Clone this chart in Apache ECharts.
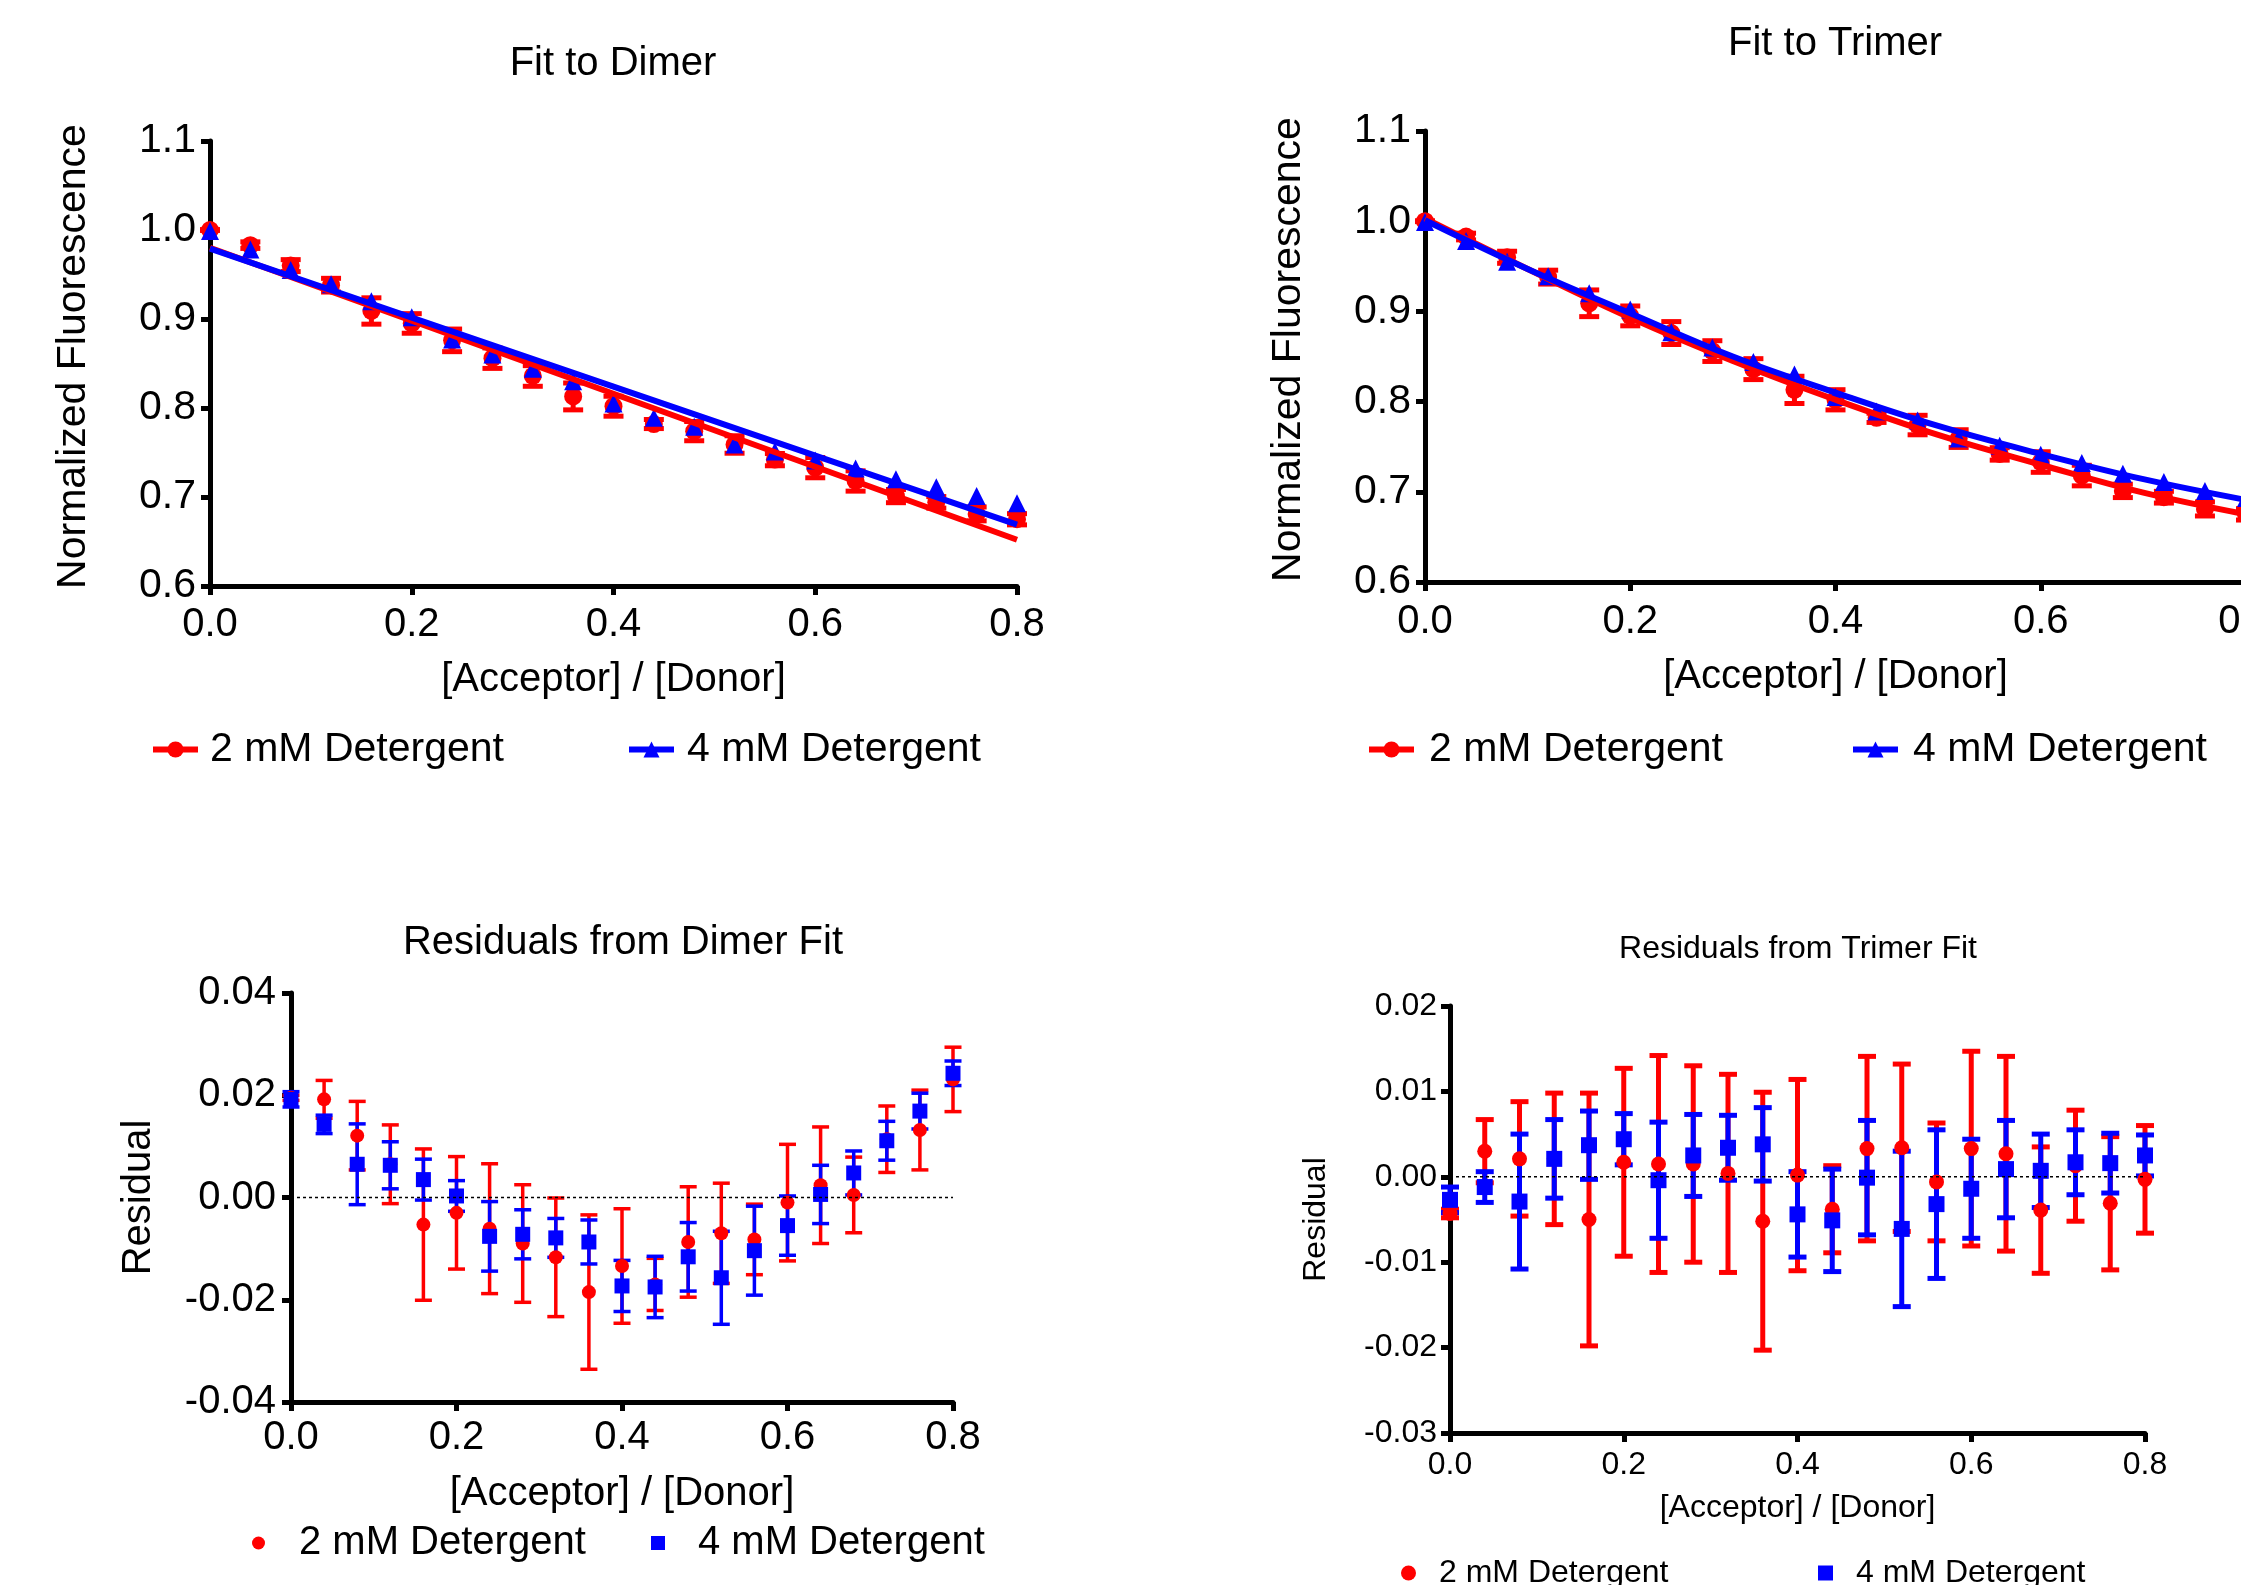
<!DOCTYPE html>
<html>
<head>
<meta charset="utf-8">
<title>FRET fits</title>
<script src="https://cdn.jsdelivr.net/npm/echarts@6/dist/echarts.min.js"></script>
<style>
html, body { margin: 0; padding: 0; background: #fff; }
#main { width: 2241px; height: 1585px; }
</style>
</head>
<body>
<div id="main"></div>
<script>
// acceptor / donor ratios
var xVals = [0, 0.04, 0.08, 0.12, 0.16, 0.2, 0.24, 0.28, 0.32, 0.36, 0.4, 0.44, 0.48, 0.52, 0.56, 0.6, 0.64, 0.68, 0.72, 0.76, 0.8];

// normalized fluorescence, 2 mM and 4 mM detergent
var fluor2 = [1.000, 0.983, 0.960, 0.938, 0.909, 0.895, 0.876, 0.856, 0.836, 0.813, 0.802, 0.782, 0.774, 0.759, 0.742, 0.733, 0.718, 0.701, 0.694, 0.681, 0.675];
var fluor4 = [0.999, 0.978, 0.955, 0.939, 0.920, 0.902, 0.877, 0.860, 0.844, 0.830, 0.805, 0.789, 0.779, 0.759, 0.751, 0.741, 0.732, 0.720, 0.711, 0.701, 0.693];

// error (same for fluorescence and residuals)
var err2 = [0.0005, 0.0037, 0.0067, 0.0077, 0.0148, 0.0110, 0.0127, 0.0115, 0.0116, 0.0151, 0.0112, 0.0051, 0.0108, 0.0098, 0.0069, 0.0114, 0.0114, 0.0074, 0.0065, 0.0078, 0.0063];
var err4 = [0.0015, 0.0018, 0.0079, 0.0046, 0.0040, 0.0030, 0.0068, 0.0048, 0.0038, 0.0043, 0.0050, 0.0060, 0.0067, 0.0091, 0.0087, 0.0058, 0.0057, 0.0043, 0.0038, 0.0035, 0.0024];

// fitted curves
var dimerX = [0, 0.4, 0.8];
var dimerFit2 = [0.980, 0.816, 0.652];
var dimerFit4 = [0.979, 0.824, 0.669];
var trimerX = [0, 0.1, 0.2, 0.3, 0.4, 0.5, 0.6, 0.7, 0.8];
var trimerFit2 = [1.003, 0.947, 0.893, 0.845, 0.802, 0.763, 0.730, 0.699, 0.675];
var trimerFit4 = [1.001, 0.947, 0.898, 0.850, 0.810, 0.773, 0.742, 0.714, 0.691];

// residuals
var resDimer2 = [0.0195, 0.0192, 0.0121, 0.0065, -0.0053, -0.0030, -0.0061, -0.0090, -0.0117, -0.0185, -0.0134, -0.0170, -0.0087, -0.0070, -0.0082, -0.0010, 0.0024, 0.0005, 0.0114, 0.0132, 0.0231];
var resDimer4 = [0.0192, 0.0143, 0.0065, 0.0063, 0.0035, 0.0003, -0.0076, -0.0072, -0.0079, -0.0087, -0.0173, -0.0175, -0.0116, -0.0157, -0.0104, -0.0055, 0.0006, 0.0048, 0.0111, 0.0169, 0.0243];
var resTrimer2 = [-0.0043, 0.0030, 0.0021, 0.0021, -0.0050, 0.0017, 0.0015, 0.0015, 0.0004, -0.0052, 0.0002, -0.0038, 0.0033, 0.0034, -0.0006, 0.0033, 0.0027, -0.0039, 0.0013, -0.0031, -0.0003];
var resTrimer4 = [-0.0027, -0.0012, -0.0029, 0.0021, 0.0037, 0.0044, -0.0004, 0.0025, 0.0034, 0.0038, -0.0044, -0.0051, -0.0001, -0.0061, -0.0032, -0.0014, 0.0009, 0.0007, 0.0017, 0.0016, 0.0025];

var zeroX = [0, 0.8];
var zeroY = [0, 0];

var legendNames = {
    d2: '2 mM Detergent', d4: '4 mM Detergent',
    t2: '2 mM Detergent', t4: '4 mM Detergent',
    rd2: '2 mM Detergent', rd4: '4 mM Detergent',
    rt2: '2 mM Detergent', rt4: '4 mM Detergent'
};

var FONT = '"Liberation Sans", Arial, sans-serif';
var RED = '#ff0000';
var BLUE = '#0000ff';

function pairs(xs, ys) {
    var out = [];
    for (var i = 0; i < xs.length; i++) out.push([xs[i], ys[i]]);
    return out;
}
function triples(xs, ys, es) {
    var out = [];
    for (var i = 0; i < xs.length; i++) out.push([xs[i], ys[i], es[i]]);
    return out;
}

function xAx(grid, fs, margin, gap) {
    return {
        type: 'value', gridIndex: grid, min: 0, max: 0.8, interval: 0.2,
        name: '[Acceptor] / [Donor]', nameLocation: 'middle', nameGap: gap,
        nameTextStyle: {fontSize: fs, color: '#000', fontFamily: FONT},
        axisLine: {show: true, onZero: false, lineStyle: {color: '#000', width: 5}},
        axisTick: {show: true, length: 9, lineStyle: {color: '#000', width: 5}},
        axisLabel: {fontSize: fs, color: '#000', fontFamily: FONT, margin: margin,
            formatter: function (v) { return v.toFixed(1); }},
        splitLine: {show: false}
    };
}
function yAx(grid, min, max, step, dig, name, fs, margin, gap, namePad) {
    return {
        type: 'value', gridIndex: grid, min: min, max: max, interval: step,
        name: name, nameLocation: 'middle', nameGap: gap,
        nameTextStyle: {fontSize: fs, color: '#000', fontFamily: FONT, padding: namePad || 0},
        axisLine: {show: true, onZero: false, lineStyle: {color: '#000', width: 5}},
        axisTick: {show: true, length: 9, lineStyle: {color: '#000', width: 5}},
        axisLabel: {fontSize: fs, color: '#000', fontFamily: FONT, margin: margin,
            formatter: function (v) { return v.toFixed(dig); }},
        splitLine: {show: false}
    };
}

function errBars(name, grid, data, color, lw, cap) {
    return {
        type: 'custom', name: name, xAxisIndex: grid, yAxisIndex: grid,
        data: data, encode: {x: 0, y: 1}, silent: true,
        renderItem: function (params, api) {
            var x = api.value(0), y = api.value(1), e = api.value(2);
            var t = api.coord([x, y + e]);
            var b = api.coord([x, y - e]);
            var st = {stroke: color, lineWidth: lw, fill: null};
            return {type: 'group', children: [
                {type: 'line', shape: {x1: t[0], y1: t[1], x2: b[0], y2: b[1]}, style: st},
                {type: 'line', shape: {x1: t[0] - cap / 2, y1: t[1], x2: t[0] + cap / 2, y2: t[1]}, style: st},
                {type: 'line', shape: {x1: b[0] - cap / 2, y1: b[1], x2: b[0] + cap / 2, y2: b[1]}, style: st}
            ]};
        }
    };
}
function points(name, grid, data, color, sym, size) {
    return {
        type: 'scatter', name: name, xAxisIndex: grid, yAxisIndex: grid,
        data: data, symbol: sym, symbolSize: size, silent: true,
        itemStyle: {color: color, opacity: 1}
    };
}
function fitLine(name, grid, data, color, sym, smooth) {
    return {
        type: 'line', name: name, xAxisIndex: grid, yAxisIndex: grid,
        data: data, symbol: sym, showSymbol: false, smooth: smooth, silent: true,
        itemStyle: {color: color}, lineStyle: {color: color, width: 6}
    };
}
function zeroLine(grid) {
    return {
        type: 'line', name: 'zero' + grid, xAxisIndex: grid, yAxisIndex: grid,
        data: pairs(zeroX, zeroY), symbol: 'none', silent: true,
        lineStyle: {color: '#000', width: 1.5, type: [3, 3]}
    };
}
// one legend per entry so every item sits where it does in the figure
function leg(name, left, top, w, h, fs, icon, pad) {
    var item = {name: name};
    if (icon) item.icon = icon;
    return {
        left: left, top: top, padding: 0, itemWidth: w, itemHeight: h,
        selectedMode: false, data: [item],
        lineStyle: {width: 6},
        formatter: function (n) { return legendNames[n]; },
        textStyle: {fontSize: fs, color: '#000', fontFamily: FONT, padding: [0, 0, 0, pad]}
    };
}
function titleText(text, x, y, fs) {
    return {type: 'text', x: x, y: y, silent: true,
        style: {text: text, fontSize: fs, fontFamily: FONT, fill: '#000', align: 'center', verticalAlign: 'middle'}};
}

var chart = echarts.init(document.getElementById('main'), null, {renderer: 'canvas'});

var option = {
    backgroundColor: '#fff',
    animation: false,
    grid: [
        {left: 210, top: 141, width: 807, height: 445, outerBoundsMode: 'none'},
        {left: 1425, top: 131, width: 821, height: 451, outerBoundsMode: 'none'},
        {left: 291, top: 993, width: 662, height: 409, outerBoundsMode: 'none'},
        {left: 1450, top: 1006, width: 695, height: 427, outerBoundsMode: 'none'}
    ],
    xAxis: [
        xAx(0, 40, 19, 74),
        xAx(1, 40, 20, 75),
        xAx(2, 40, 16, 72),
        xAx(3, 32, 16, 59)
    ],
    yAxis: [
        yAx(0, 0.6, 1.1, 0.1, 1, 'Normalized Fluorescence', 41, 14, 116, [0, 0, 0, 14]),
        yAx(1, 0.6, 1.1, 0.1, 1, 'Normalized Fluorescence', 41, 14, 116, [0, 0, 0, 14]),
        yAx(2, -0.04, 0.04, 0.02, 2, 'Residual', 40, 15, 132),
        yAx(3, -0.03, 0.02, 0.01, 2, 'Residual', 32, 13, 118)
    ],
    legend: [
        leg('d2', 150, 729, 45, 20, 41, null, 7),
        leg('d4', 626, 729, 45, 20, 41, null, 8),
        leg('t2', 1366, 729, 45, 20, 41, null, 10),
        leg('t4', 1850, 729, 45, 20, 41, null, 10),
        leg('rd2', 252, 1523, 13, 13, 40, 'circle', 29),
        leg('rd4', 651, 1523, 14, 14, 40, 'rect', 28),
        leg('rt2', 1401, 1557, 15, 15, 32, 'circle', 18),
        leg('rt4', 1818, 1557, 15, 15, 32, 'rect', 18)
    ],
    graphic: [
        titleText('Fit to Dimer', 613, 64, 40),
        titleText('Fit to Trimer', 1835, 44, 40),
        titleText('Residuals from Dimer Fit', 623, 943, 40),
        titleText('Residuals from Trimer Fit', 1798, 949, 32)
    ],
    series: [
        // fit to dimer
        errBars('ed2', 0, triples(xVals, fluor2, err2), RED, 5, 20),
        points('pd2', 0, pairs(xVals, fluor2), RED, 'circle', 18),
        points('pd4', 0, pairs(xVals, fluor4), BLUE, 'triangle', 18),
        fitLine('d2', 0, pairs(dimerX, dimerFit2), RED, 'circle', false),
        fitLine('d4', 0, pairs(dimerX, dimerFit4), BLUE, 'triangle', false),
        // fit to trimer
        errBars('et2', 1, triples(xVals, fluor2, err2), RED, 5, 20),
        points('pt2', 1, pairs(xVals, fluor2), RED, 'circle', 18),
        points('pt4', 1, pairs(xVals, fluor4), BLUE, 'triangle', 18),
        fitLine('t2', 1, pairs(trimerX, trimerFit2), RED, 'circle', 0.4),
        fitLine('t4', 1, pairs(trimerX, trimerFit4), BLUE, 'triangle', 0.4),
        // residuals dimer
        zeroLine(2),
        errBars('erd2', 2, triples(xVals, resDimer2, err2), RED, 3.5, 17),
        points('rd2', 2, pairs(xVals, resDimer2), RED, 'circle', 14),
        errBars('erd4', 2, triples(xVals, resDimer4, err4), BLUE, 3.5, 17),
        points('rd4', 2, pairs(xVals, resDimer4), BLUE, 'rect', 15),
        // residuals trimer
        zeroLine(3),
        errBars('ert2', 3, triples(xVals, resTrimer2, err2), RED, 5, 18),
        points('rt2', 3, pairs(xVals, resTrimer2), RED, 'circle', 15),
        errBars('ert4', 3, triples(xVals, resTrimer4, err4), BLUE, 5, 18),
        points('rt4', 3, pairs(xVals, resTrimer4), BLUE, 'rect', 16)
    ]
};

chart.setOption(option);
</script>
</body>
</html>
